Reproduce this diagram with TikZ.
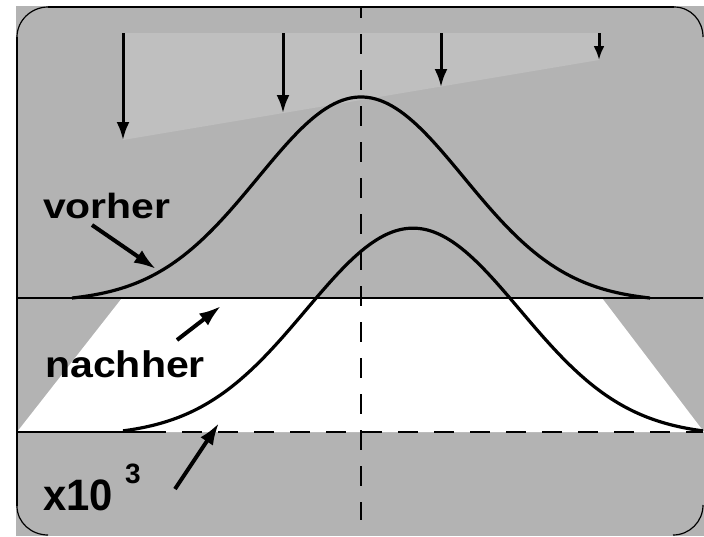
\documentclass[tikz,border=0pt]{standalone}
\usepackage{fontspec}
\setmainfont{Liberation Sans}
\usetikzlibrary{arrows.meta}
\definecolor{bggray}{HTML}{B3B3B3}
\definecolor{lightgray}{HTML}{BFBFBF}
\tikzset{
  curve/.style={line width=3.2pt},
  thinline/.style={line width=1.5pt},
  dashline/.style={line width=2pt, dash pattern=on 20pt off 16pt},
  varrow/.style={line width=3pt, -{Latex[length=18pt,width=13pt]}},
  darrow/.style={line width=4pt, -{Latex[length=22pt,width=15pt]}},
  corner/.style={line width=1.2pt},
  border/.style={line width=2.6pt},
  lbl/.style={inner sep=0pt, anchor=base west},
}
\begin{document}
\begin{tikzpicture}[x=1pt,y=-1pt]
\useasboundingbox (0,0) rectangle (704,536);
% background
\fill[bggray] (16,6) rectangle (704,536);
% light wedge under the arrows
\fill[lightgray] (123,33) -- (599,33) -- (599,60) -- (123,140) -- cycle;
% white band
\fill[white] (122,298) -- (602,298) -- (704,432) -- (17,432) -- cycle;
% horizontal lines
\draw[thinline] (17,298) -- (703,298);
\draw[thinline] (17,432) -- (150,432);
\draw[dashline, dash phase=4pt] (150,432) -- (703,432);
% vertical dashed axis
\draw[dashline, dash phase=9pt] (361,7) -- (361,520);
% curves (gaussians brought down to the baselines at their ends)
\draw[curve] plot[domain=72:650, samples=140, smooth] (\x, {298-205*(exp(-0.5*((\x-361)/103)^2)-0.0195)});
\draw[curve] plot[domain=123:703, samples=140, smooth] (\x, {432-208*(exp(-0.5*((\x-413)/107)^2)-0.02)});
% vertical arrows
\coordinate (a1s) at (123,33); \coordinate (a1e) at (123,140);
\coordinate (a2s) at (283,33); \coordinate (a2e) at (283,113);
\coordinate (a3s) at (441,33); \coordinate (a3e) at (441,87);
\coordinate (a4s) at (599,33); \coordinate (a4e) at (599,60);
\draw[varrow] (a1s) -- (a1e);
\draw[varrow] (a2s) -- (a2e);
\draw[varrow] (a3s) -- (a3e);
\draw[varrow, -{Latex[length=14pt,width=11pt]}] (a4s) -- (a4e);
% labels
\node[lbl] (vorher) at (43,218) {\fontsize{35}{40}\selectfont\bfseries\scalebox{1.17}[1]{vorher}};
\node[lbl] (nachher) at (45,377) {\fontsize{37}{42}\selectfont\bfseries\scalebox{1.11}[1]{nachher}};
\node[lbl] (x10) at (43,510) {\fontsize{44}{48}\selectfont\bfseries\scalebox{0.95}[1]{x10}};
\node[lbl] (exp) at (125,483) {\fontsize{28}{32}\selectfont\bfseries 3};
% diagonal arrows
\coordinate (v1) at (92,225); \coordinate (v2) at (156,269);
\coordinate (n1) at (177,340); \coordinate (n2) at (221,306);
\coordinate (x1) at (175,489); \coordinate (x2) at (219,423);
\draw[darrow] (v1) -- (v2);
\draw[darrow] (n1) -- (n2);
\draw[darrow] (x1) -- (x2);
% border
\draw[border] (48,7) -- (674,7);
\draw[border] (17,37) -- (17,506);
\draw[corner] (17,37) .. controls (17,20.4) and (31.4,7) .. (48,7);
\draw[corner] (674,7) .. controls (690.6,7) and (703,20.4) .. (703,37);
\draw[corner] (17,506) .. controls (17,522.6) and (31.4,535) .. (48,535);
\draw[corner] (703,505) .. controls (703,521.6) and (689.6,535) .. (673,535);
\end{tikzpicture}
\end{document}
